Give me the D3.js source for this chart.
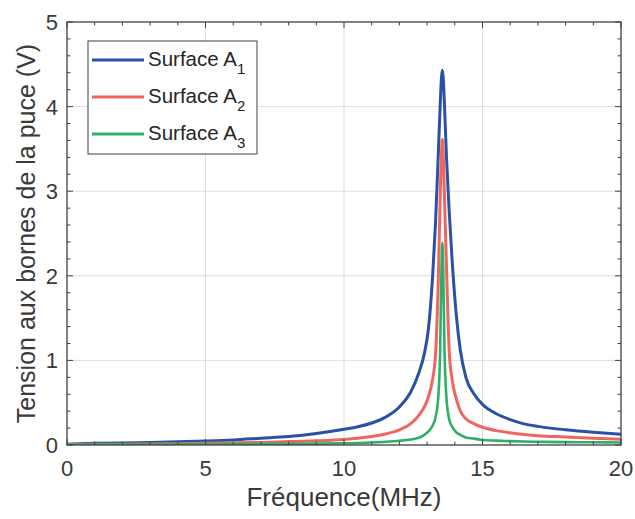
<!DOCTYPE html>
<html><head><meta charset="utf-8">
<script src="https://cdn.jsdelivr.net/npm/d3@7"></script>
<style>body{margin:0;background:#fff}svg{display:block;font-family:"Liberation Sans",Arial,sans-serif}</style>
</head><body><svg id="c" width="635" height="519"></svg>
<script>
const freq = [0,1,2,3,4,5,6,7,8,9,10,10.5,11,11.5,12,12.4,12.7,12.9,13.05,13.2,13.3,13.4,13.47,13.52,13.55,13.58,13.63,13.7,13.8,13.9,14.05,14.2,14.4,14.7,15,15.5,16,16.5,17,18,19,20];
const surfaceA1 = [0.01,0.02,0.025,0.03,0.037,0.047,0.06,0.08,0.1,0.135,0.185,0.215,0.26,0.33,0.45,0.62,0.85,1.08,1.38,2.0,2.6,3.4,4.0,4.35,4.43,4.35,4.0,3.4,2.75,2.2,1.55,1.12,0.8,0.6,0.48,0.37,0.3,0.25,0.22,0.18,0.15,0.126];
const surfaceA2 = [0.005,0.008,0.01,0.012,0.015,0.02,0.025,0.03,0.04,0.05,0.066,0.08,0.1,0.13,0.18,0.25,0.35,0.45,0.57,0.78,1.05,1.9,2.9,3.45,3.61,3.45,2.9,2.1,1.1,0.78,0.55,0.4,0.31,0.25,0.21,0.17,0.145,0.125,0.11,0.095,0.08,0.067];
const surfaceA3 = [0.003,0.004,0.005,0.006,0.007,0.008,0.01,0.012,0.014,0.016,0.02,0.024,0.03,0.038,0.05,0.065,0.085,0.12,0.16,0.23,0.32,0.55,1.1,2.1,2.39,2.1,1.1,0.55,0.3,0.22,0.15,0.12,0.09,0.075,0.06,0.052,0.046,0.041,0.038,0.034,0.032,0.03];
const seriesNames = ["Surface A", "Surface A", "Surface A"];
const seriesSubs = ["1", "2", "3"];
const seriesColors = ["#2a51a8", "#f0665f", "#2fb06a"];
const xTicks = [0,5,10,15,20];
const yTicks = [0,1,2,3,4,5];
const xLabel = "Fréquence(MHz)";
const yLabel = "Tension aux bornes de la puce (V)";

const W = 635, H = 519, m = {l:67, r:14, t:22, b:74};
const svg = d3.select("#c");
const x = d3.scaleLinear().domain([0,20]).range([m.l, W-m.r]);
const y = d3.scaleLinear().domain([0,5]).range([H-m.b, m.t]);
const axisCol = "#404040", gridCol = "#dedede", textCol = "#3a3a3a";

// grid
const g = svg.append("g");
g.selectAll(".gx").data(xTicks.slice(1,-1)).enter().append("line")
  .attr("x1",d=>x(d)).attr("x2",d=>x(d)).attr("y1",y(0)).attr("y2",y(5))
  .attr("stroke",gridCol).attr("stroke-width",1);
g.selectAll(".gy").data(yTicks.slice(1,-1)).enter().append("line")
  .attr("x1",x(0)).attr("x2",x(20)).attr("y1",d=>y(d)).attr("y2",d=>y(d))
  .attr("stroke",gridCol).attr("stroke-width",1);

// clip
svg.append("clipPath").attr("id","clip").append("rect")
  .attr("x",x(0)).attr("y",y(5)).attr("width",x(20)-x(0)).attr("height",y(0)-y(5));

const line = d3.line().x(d=>x(d[0])).y(d=>y(d[1])).curve(d3.curveMonotoneX);
const allSeries = [surfaceA1, surfaceA2, surfaceA3];
const widths = [3, 3, 2.6];
const cg = svg.append("g").attr("clip-path","url(#clip)");
allSeries.forEach((s,i)=>{
  cg.append("path").datum(freq.map((f,j)=>[f,s[j]]))
    .attr("d",line).attr("fill","none").attr("stroke",seriesColors[i])
    .attr("stroke-width",widths[i]).attr("stroke-linejoin","round");
});

// axes with inward ticks on all sides
const minorX = d3.range(0,20.001,1), minorY = d3.range(0,5.001,0.2);
const tk = svg.append("g").attr("stroke",axisCol).attr("stroke-width",1);
minorX.forEach(v=>{
  const len = xTicks.includes(v)?6:3.5;
  tk.append("line").attr("x1",x(v)).attr("x2",x(v)).attr("y1",y(0)).attr("y2",y(0)-len);
  tk.append("line").attr("x1",x(v)).attr("x2",x(v)).attr("y1",y(5)).attr("y2",y(5)+len);
});
minorY.forEach(v=>{
  const major = Math.abs(v-Math.round(v))<1e-6;
  const len = major?6:3.5;
  tk.append("line").attr("x1",x(0)).attr("x2",x(0)+len).attr("y1",y(v)).attr("y2",y(v));
  tk.append("line").attr("x1",x(20)).attr("x2",x(20)-len).attr("y1",y(v)).attr("y2",y(v));
});
svg.append("rect").attr("x",x(0)).attr("y",y(5)).attr("width",x(20)-x(0)).attr("height",y(0)-y(5))
  .attr("fill","none").attr("stroke",axisCol).attr("stroke-width",1.3);

// tick labels
svg.selectAll(".xl").data(xTicks).enter().append("text")
  .attr("x",d=>x(d)).attr("y",y(0)+31).attr("text-anchor","middle")
  .attr("font-size",22).attr("fill",textCol).text(d=>d);
svg.selectAll(".yl").data(yTicks).enter().append("text")
  .attr("x",x(0)-9).attr("y",d=>y(d)+8).attr("text-anchor","end")
  .attr("font-size",22).attr("fill",textCol).text(d=>d);

// axis titles
svg.append("text").attr("x",(x(0)+x(20))/2).attr("y",H-13).attr("text-anchor","middle")
  .attr("font-size",26).attr("fill",textCol).text(xLabel);
svg.append("text").attr("transform",`translate(35,${(y(0)+y(5))/2}) rotate(-90)`)
  .attr("text-anchor","middle").attr("font-size",25).attr("fill",textCol).text(yLabel);

// legend
const lg = svg.append("g");
lg.append("rect").attr("x",88).attr("y",41).attr("width",169).attr("height",113)
  .attr("fill","#fff").attr("stroke",axisCol).attr("stroke-width",1);
seriesNames.forEach((n,i)=>{
  const yy = 60 + i*37;
  lg.append("line").attr("x1",92).attr("x2",144).attr("y1",yy).attr("y2",yy)
    .attr("stroke",seriesColors[i]).attr("stroke-width",3);
  const t = lg.append("text").attr("x",148).attr("y",yy+6).attr("font-size",20.5).attr("fill","#262626");
  t.append("tspan").text(n);
  t.append("tspan").attr("dy",8).attr("font-size",15).text(seriesSubs[i]);
});
</script></body></html>
